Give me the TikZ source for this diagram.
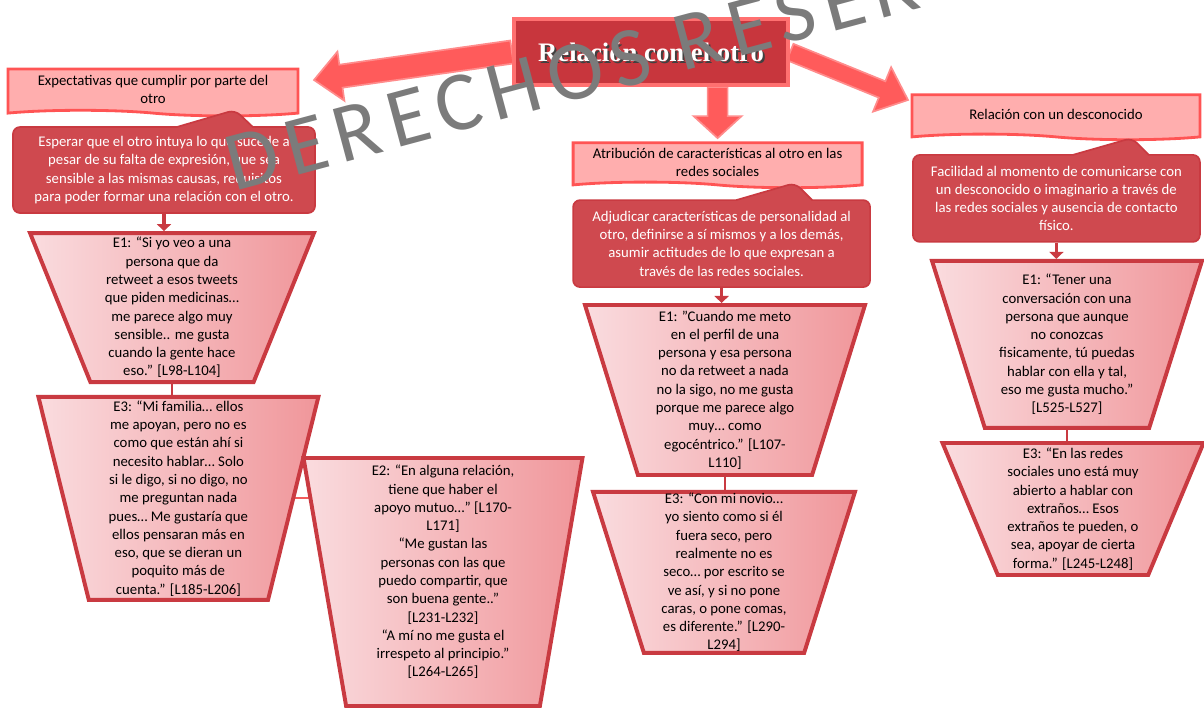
\documentclass[tikz,border=0pt]{standalone}
\usepackage{fontspec}
\setmainfont{Carlito}
\newfontfamily\titlefont{Liberation Serif}
\newfontfamily\wmfont[LetterSpace=11]{Carlito}
\usepackage{tikz}
\usepackage{xcolor}
\usetikzlibrary{arrows.meta,positioning,calc,backgrounds,shapes.geometric,%
                shapes.symbols,shapes.callouts}
\definecolor{rdark}{HTML}{C93A41}
\definecolor{rmid}{HTML}{CF494F}
\definecolor{rpink}{HTML}{FF5454}
\definecolor{rpinkd}{HTML}{FFAEAE}
\definecolor{qleft}{HTML}{FADCDF}
\definecolor{qright}{HTML}{F0969A}
\definecolor{rbright}{HTML}{FF5B5B}
\definecolor{rbrightl}{HTML}{FF8C8C}
\definecolor{rtitle}{HTML}{C8363D}
\definecolor{rtitlel}{HTML}{FF7070}
\definecolor{rsoft}{HTML}{F25C5C}
\definecolor{wmgrey}{HTML}{7B7B7B}
\newcommand{\qfont}{\fontsize{10.5}{13}\selectfont}
% block arrow: name, tail, tip, half shaft, half head, head length
\newcommand{\blockarrow}[6]{%
  \coordinate (#1-base) at ($(#3)!#6!(#2)$);
  \draw[bigarrow] ($(#2)!#4!90:(#3)$) -- ($(#1-base)!#4!90:(#3)$)
    -- ($(#1-base)!#5!90:(#3)$) -- (#3)
    -- ($(#1-base)!#5!-90:(#3)$) -- ($(#1-base)!#4!-90:(#3)$)
    -- ($(#2)!#4!-90:(#3)$) -- cycle;}
\tikzset{
  titlebox/.style   = {draw=rtitlel, fill=rtitle, line width=3pt,
                       minimum width=6.85cm, minimum height=1.65cm},
  titletxt/.style   = {text=white, font=\titlefont\fontsize{19}{22}\selectfont\bfseries},
  titleshade/.style = {titletxt, text=black!75},
  headbox/.style    = {tape, tape bend top=none, tape bend bottom=out and in,
                       tape bend height=4pt, draw=rpink, fill=rpinkd,
                       line width=2pt, align=center, font=\qfont, inner sep=1pt},
  callbox/.style    = {rectangle callout, draw=rdark, fill=rmid, line width=1.2pt,
                       rounded corners=5pt, align=center, text=white, font=\qfont,
                       inner sep=1pt, callout pointer width=1.9cm},
  quotebox/.style   = {trapezium, trapezium stretches=true, shape border rotate=180,
                       draw=rdark, line width=2.8pt, left color=qleft,
                       right color=qright, inner sep=2pt},
  qtext/.style      = {align=center, font=\qfont, inner sep=0pt},
  link/.style       = {draw=rdark, line width=1.8pt},
  softlink/.style   = {draw=rsoft, line width=1.5pt},
  down/.style       = {-{Triangle[length=5pt,width=10pt]}, draw=rdark,
                       line width=2.5pt},
  bigarrow/.style   = {fill=rbright, draw=rbrightl, line width=1.2pt,
                       line join=miter},
  watermark/.style  = {text=wmgrey, font=\wmfont\fontsize{60}{64}\selectfont,
                       inner sep=0pt},
}

\begin{document}
\begin{tikzpicture}

  \useasboundingbox (0,0) rectangle (30.1,-17.775);

  % title and headings
  \node[titlebox] (title) at (16.275,-1.3) {};
  \node[titleshade] (titleshadow) at ([shift={(0.05,-0.05)}]title.center)
      {Relación con el otro};
  \node[titletxt] (titletext) at (title.center) {Relación con el otro};

  \node[headbox, minimum width=7.25cm, minimum height=1.175cm] (hl)
      at (3.825,-2.24) {Expectativas que cumplir por parte del\\otro};
  \node[headbox, minimum width=7.225cm, minimum height=1.125cm] (hm)
      at (17.94,-4.06) {Atribución de características al otro en las\\redes sociales};
  \node[headbox, minimum width=7.2cm, minimum height=1.125cm] (hr)
      at (26.4,-2.86) {Relación con un desconocido};

  \coordinate (ltip) at (7.85,-2.0);
  \coordinate (rtip) at (22.7,-2.5);
  \begin{scope}[on background layer]
    \blockarrow{la}{title.west}{ltip}{0.29cm}{0.62cm}{0.68cm}
    \blockarrow{ra}{title.east}{rtip}{0.22cm}{0.6cm}{0.7cm}
    \blockarrow{ma}{hm.north |- title.south}{[yshift=0.08cm]hm.north}{0.25cm}{0.6cm}{0.55cm}
  \end{scope}

  % callouts
  \coordinate (clptr) at (5.875,-2.75);
  \coordinate (cmptr) at (19.875,-4.575);
  \coordinate (crptr) at (28.3,-3.45);
  \node[callbox, minimum width=7.55cm, minimum height=2.15cm,
        callout absolute pointer={(clptr)}] (cl) at (4.1,-4.25)
      {Esperar que el otro intuya lo que sucede a\\pesar de su falta de expresión, que sea\\
       sensible a las mismas causas, requisitos\\para poder formar una relación con el otro.};
  \node[callbox, minimum width=7.425cm, minimum height=2.175cm,
        callout absolute pointer={(cmptr)}] (cm) at (18.04,-6.09)
      {Adjudicar características de personalidad al\\otro, definirse a sí mismos y a los demás,\\
       asumir actitudes de lo que expresan a\\través de las redes sociales.};
  \node[callbox, minimum width=7.175cm, minimum height=2.175cm,
        callout absolute pointer={(crptr)}] (cr) at (26.41,-4.96)
      {Facilidad al momento de comunicarse con\\un desconocido o imaginario a través de\\
       las redes sociales y ausencia de contacto\\físico.};

  % quotes, left column
  \node[quotebox, minimum width=7.1cm, minimum height=3.725cm,
        trapezium angle=69.7] (l1) at (4.3,-7.69) {};
  \node[qtext] (l1t) at (l1.center)
      {E1: “Si yo veo a una\\persona que da\\retweet a esos tweets\\que piden medicinas…\\
       me parece algo muy\\sensible.. me gusta\\cuando la gente hace\\eso.” [L98-L104]};
  \node[quotebox, minimum width=7.0cm, minimum height=5.075cm,
        trapezium angle=74.3] (l3) at (4.46,-12.46) {};
  \node[qtext] (l3t) at (l3.center)
      {E3: “Mi familia… ellos\\me apoyan, pero no es\\como que están ahí si\\necesito hablar… Solo\\
       si le digo, si no digo, no\\me preguntan nada\\pues… Me gustaría que\\
       ellos pensaran más en\\eso, que se dieran un\\poquito más de\\cuenta.” [L185-L206]};
  \node[quotebox, minimum width=6.975cm, minimum height=6.2cm,
        trapezium angle=77.6] (l2) at (11.075,-14.55) {};
  \node[qtext] (l2t) at ([yshift=0.25cm]l2.center)
      {E2: “En alguna relación,\\tiene que haber el\\apoyo mutuo…” [L170-\\L171]\\
       “Me gustan las\\personas con las que\\puedo compartir, que\\son buena gente..”\\
       {[L231-L232]}\\“A mí no me gusta el\\irrespeto al principio.”\\{[L264-L265]}};

  % quotes, middle column
  \node[quotebox, minimum width=7.0cm, minimum height=4.25cm,
        trapezium angle=73.1] (m1) at (18.125,-9.75) {};
  \node[qtext] (m1t) at (m1.center)
      {E1: ”Cuando me meto\\en el perfil de una\\persona y esa persona\\no da retweet a nada\\
       no la sigo, no me gusta\\porque me parece algo\\muy… como\\egocéntrico.” [L107-\\L110]};
  \node[quotebox, minimum width=6.55cm, minimum height=4.025cm,
        trapezium angle=72.4] (m3) at (18.1,-14.31) {};
  \node[qtext] (m3t) at (m3.center)
      {E3: “Con mi novio…\\yo siento como si él\\fuera seco, pero\\realmente no es\\
       seco… por escrito se\\ve así, y si no pone\\caras, o pone comas,\\es diferente.” [L290-\\L294]};

  % quotes, right column
  \node[quotebox, minimum width=6.75cm, minimum height=4.175cm,
        trapezium angle=72.2] (r1) at (26.675,-8.61) {};
  \node[qtext] (r1t) at (r1.center)
      {E1: “Tener una\\conversación con una\\persona que aunque\\no conozcas\\
       fisicamente, tú puedas\\hablar con ella y tal,\\eso me gusta mucho.”\\{[L525-L527]}};
  \node[quotebox, minimum width=6.525cm, minimum height=3.3cm,
        trapezium angle=69.8] (r3) at (26.825,-12.725) {};
  \node[qtext] (r3t) at (r3.center)
      {E3: “En las redes\\sociales uno está muy\\abierto a hablar con\\extraños… Esos\\
       extraños te pueden, o\\sea, apoyar de cierta\\forma.” [L245-L248]};

  % connectors
  \draw[down] (cl.south) -- (cl.south |- l1.90);
  \draw[down] (cm.south) -- (cm.south |- m1.90);
  \draw[down] (cr.south) -- (cr.south |- r1.90);
  \draw[link] (l1.270) -- (l1.270 |- l3.90);
  \draw[link] (m1.270) -- (m1.270 |- m3.90);
  \draw[link] (r1.270) -- (r1.270 |- r3.90);
  \begin{scope}[on background layer]
    \draw[softlink] (l3.0) -- (l3.0 -| l2.center);
  \end{scope}

  \node[watermark, rotate=15, anchor=base west] (wm) at (5.85,-4.8)
      {DERECHOS RESERV};

\end{tikzpicture}
\end{document}
